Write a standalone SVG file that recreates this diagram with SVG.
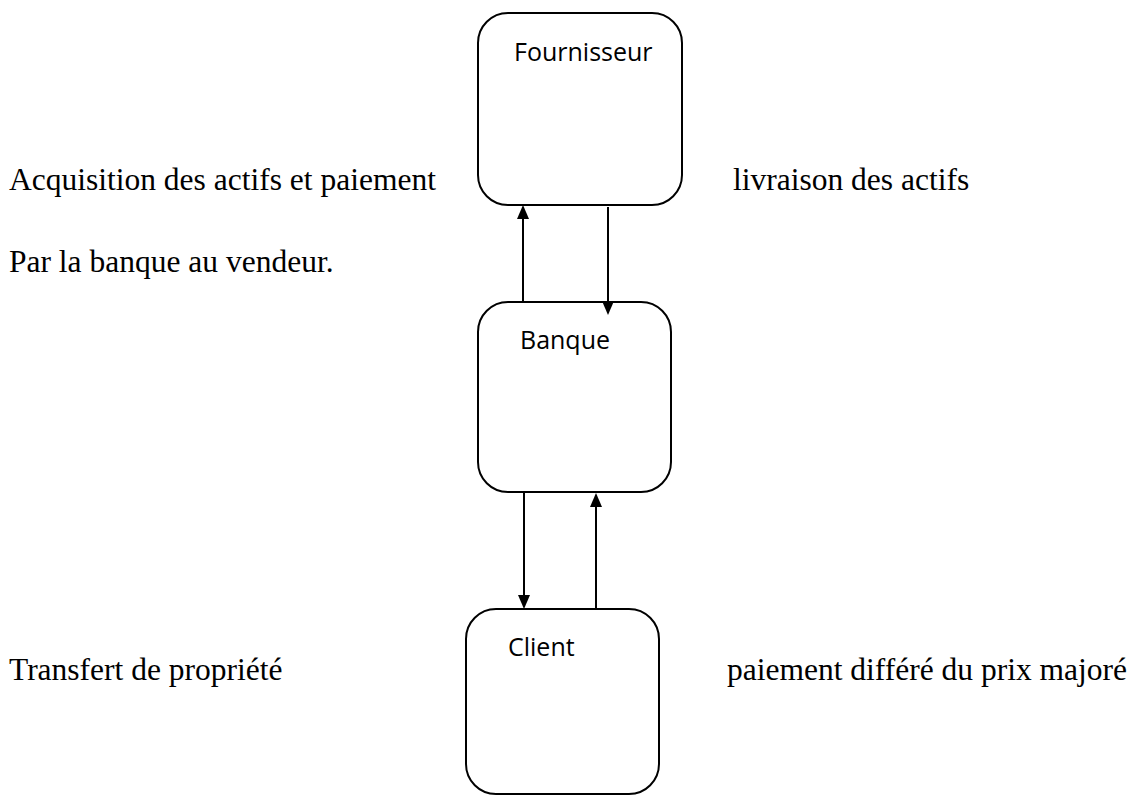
<svg xmlns="http://www.w3.org/2000/svg" width="1137" height="796" viewBox="0 0 1137 796">
  <style>
    .box { fill: #ffffff; stroke: #000000; stroke-width: 2; }
    .label { font-family: "Open Sans", "Noto Sans", sans-serif; font-size: 25px; fill: #000000; }
    .note { font-family: "Liberation Serif", "Times New Roman", serif; font-size: 31.5px; fill: #000000; }
    .link { stroke: #000000; stroke-width: 2; fill: none; marker-end: url(#arrow); }
  </style>
  <defs>
    <marker id="arrow" markerUnits="userSpaceOnUse" markerWidth="14" markerHeight="12" refX="4" refY="6" orient="auto">
      <path d="M0,0 L14,6 L0,12 z" fill="#000000"/>
    </marker>
  </defs>
  <rect width="1137" height="796" fill="#ffffff"/>

  <!-- Nodes -->
  <g id="fournisseur">
    <rect class="box" x="478" y="13" width="204" height="192" rx="30" ry="30"/>
    <text class="label" x="514" y="61">Fournisseur</text>
  </g>
  <g id="banque">
    <rect class="box" x="478" y="302" width="193" height="190" rx="30" ry="30"/>
    <text class="label" x="520" y="349">Banque</text>
  </g>
  <g id="client">
    <rect class="box" x="466" y="609" width="193" height="185" rx="30" ry="30"/>
    <text class="label" x="508" y="656">Client</text>
  </g>

  <!-- Connectors -->
  <g id="connectors">
    <line class="link" x1="523" y1="302" x2="523" y2="215"/>
    <line class="link" x1="608" y1="207" x2="608" y2="305"/>
    <line class="link" x1="524" y1="492" x2="524" y2="599"/>
    <line class="link" x1="596" y1="609" x2="596" y2="503"/>
  </g>

  <!-- Annotations -->
  <g id="annotations">
    <text class="note" x="9" y="190">Acquisition des actifs et paiement</text>
    <text class="note" x="9" y="272">Par la banque au vendeur.</text>
    <text class="note" x="733" y="190">livraison des actifs</text>
    <text class="note" x="9" y="680">Transfert de propriété</text>
    <text class="note" x="727" y="680">paiement différé du prix majoré</text>
  </g>
</svg>
